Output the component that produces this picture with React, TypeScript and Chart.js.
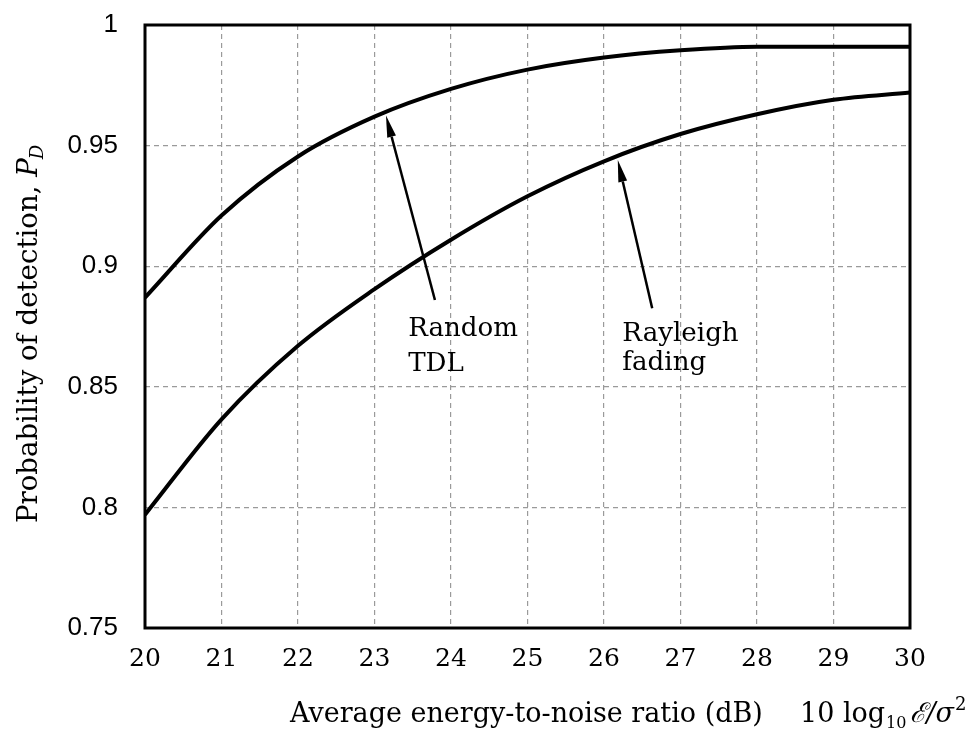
import React, { useEffect, useRef } from "react";
import { Chart, registerables } from "chart.js";
Chart.register(...registerables);

// Data
const snrDb = [20, 21, 22, 23, 24, 25, 26, 27, 28, 29, 30];
const randomTdl = [0.887, 0.921, 0.9455, 0.962, 0.9735, 0.9815, 0.9865, 0.9895, 0.991, 0.991, 0.991];
const rayleighFading = [0.797, 0.8365, 0.867, 0.8905, 0.911, 0.929, 0.9435, 0.9548, 0.963, 0.969, 0.972];

const xTickValues = [20, 21, 22, 23, 24, 25, 26, 27, 28, 29, 30];
const yTickValues = [0.75, 0.8, 0.85, 0.9, 0.95, 1];
const yTickLabels = ["0.75", "0.8", "0.85", "0.9", "0.95", "1"];

// annotation text (lines), left x, baselines y (data units)
const labelLines = [["Random", "TDL"], ["Rayleigh", "fading"]];
const labelX = [23.44, 26.24];
const labelBaselines = [[0.871, 0.8566], [0.869, 0.857]];
// arrows: tail -> head (data units)
const arrowTails = [[23.79, 0.886], [26.63, 0.8826]];
const arrowHeads = [[23.15, 0.9625], [26.18, 0.944]];

const xTitle = "Average energy-to-noise ratio (dB)";
const yTitle = "Probability of detection, ";

const SERIF = "'DejaVu Serif', 'Liberation Serif', serif";
const SANS = "'Liberation Sans', Arial, sans-serif";

function fitSize(ctx: CanvasRenderingContext2D, text: string, style: string, target: number) {
  ctx.font = `${style} 20px ${SERIF}`;
  const w = ctx.measureText(text).width;
  return (20 * target) / w;
}

const overlayPlugin = {
  id: "overlay",
  afterDatasetsDraw(chart: any) {
    const { ctx, chartArea, scales } = chart;
    const xs = scales.x;
    const ys = scales.y;
    ctx.save();
    // frame
    ctx.strokeStyle = "#000";
    ctx.lineWidth = 3;
    ctx.strokeRect(chartArea.left, chartArea.top, chartArea.right - chartArea.left, chartArea.bottom - chartArea.top);

    // arrows
    ctx.fillStyle = "#000";
    ctx.lineWidth = 2.5;
    for (let i = 0; i < arrowTails.length; i++) {
      const x0 = xs.getPixelForValue(arrowTails[i][0]);
      const y0 = ys.getPixelForValue(arrowTails[i][1]);
      const x1 = xs.getPixelForValue(arrowHeads[i][0]);
      const y1 = ys.getPixelForValue(arrowHeads[i][1]);
      const ang = Math.atan2(y1 - y0, x1 - x0);
      const len = 22, hw = 4.5;
      const bx = x1 - len * Math.cos(ang);
      const by = y1 - len * Math.sin(ang);
      ctx.beginPath();
      ctx.moveTo(x0, y0);
      ctx.lineTo(bx, by);
      ctx.stroke();
      ctx.beginPath();
      ctx.moveTo(x1, y1);
      ctx.lineTo(bx + hw * Math.sin(ang), by - hw * Math.cos(ang));
      ctx.lineTo(bx - hw * Math.sin(ang), by + hw * Math.cos(ang));
      ctx.closePath();
      ctx.fill();
    }

    // annotation texts
    ctx.textAlign = "left";
    ctx.textBaseline = "alphabetic";
    const labSize = fitSize(ctx, "Random", "", 110);
    ctx.font = `${labSize}px ${SERIF}`;
    for (let i = 0; i < labelLines.length; i++) {
      const px = xs.getPixelForValue(labelX[i]);
      labelLines[i].forEach((line, j) => {
        ctx.fillText(line, px, ys.getPixelForValue(labelBaselines[i][j]));
      });
    }

    // x axis title
    const base = 722;
    let x = chartArea.left + 145;
    const tSize = fitSize(ctx, xTitle, "", 473);
    ctx.font = `${tSize}px ${SERIF}`;
    ctx.fillText(xTitle, x, base);
    x = chartArea.left + 655;
    ctx.fillText("10 log", x, base);
    x += ctx.measureText("10 log").width;
    ctx.font = `${Math.round(tSize * 0.6)}px ${SERIF}`;
    ctx.fillText("10", x + 1, base + 6);
    x += ctx.measureText("10").width + 5;
    ctx.font = `italic ${tSize}px ${SERIF}`;
    ctx.fillText("\u2130/\u03C3", x, base);
    x += ctx.measureText("\u2130/\u03C3").width + 1;
    ctx.font = `${Math.round(tSize * 0.65)}px ${SERIF}`;
    ctx.fillText("2", x, base - 12);

    // y axis title
    ctx.save();
    ctx.translate(37, 523);
    ctx.rotate(-Math.PI / 2);
    const ySize = fitSize(ctx, yTitle + "P", "", 365);
    ctx.font = `${ySize}px ${SERIF}`;
    ctx.fillText(yTitle, 0, 0);
    let w = ctx.measureText(yTitle).width;
    ctx.font = `italic ${ySize}px ${SERIF}`;
    ctx.fillText("P", w, 0);
    w += ctx.measureText("P").width;
    ctx.font = `italic ${Math.round(ySize * 0.65)}px ${SERIF}`;
    ctx.fillText("D", w - 1, 6);
    ctx.restore();

    ctx.restore();
  },
};

export default function App() {
  const ref = useRef<HTMLCanvasElement>(null);
  useEffect(() => {
    document.body.style.margin = "0";
    const canvas = ref.current!;
    const chart = new Chart(canvas, {
      type: "line",
      data: {
        datasets: [
          {
            label: "Random TDL",
            data: snrDb.map((x, i) => ({ x, y: randomTdl[i] })),
            borderColor: "#000",
            borderWidth: 4,
            pointRadius: 0,
            cubicInterpolationMode: "monotone",
          },
          {
            label: "Rayleigh fading",
            data: snrDb.map((x, i) => ({ x, y: rayleighFading[i] })),
            borderColor: "#000",
            borderWidth: 4,
            pointRadius: 0,
            cubicInterpolationMode: "monotone",
          },
        ],
      },
      options: {
        responsive: false,
        animation: false,
        layout: { padding: { top: 25, right: 58, left: 0, bottom: 0 } },
        plugins: { legend: { display: false }, tooltip: { enabled: false }, title: { display: false } },
        scales: {
          x: {
            type: "linear",
            min: 20,
            max: 30,
            afterBuildTicks: (s: any) => {
              s.ticks = xTickValues.map((v) => ({ value: v }));
            },
            afterFit: (s: any) => {
              s.height = 109;
              s.paddingLeft = 0;
              s.paddingRight = 0;
            },
            grid: { color: "#9a9a9a", lineWidth: 1.2, drawTicks: false },
            border: { display: false, dash: [5, 4] },
            ticks: {
              color: "#000",
              padding: 16,
              font: { family: SERIF, size: 25 },
              maxRotation: 0,
              autoSkip: false,
            },
          },
          y: {
            type: "linear",
            min: 0.75,
            max: 1,
            afterBuildTicks: (s: any) => {
              s.ticks = yTickValues.map((v) => ({ value: v }));
            },
            afterFit: (s: any) => {
              s.width = 145;
              s.paddingTop = 0;
              s.paddingBottom = 0;
            },
            grid: { color: "#9a9a9a", lineWidth: 1.2, drawTicks: false },
            border: { display: false, dash: [5, 4] },
            ticks: {
              color: "#000",
              padding: 27,
              font: { family: SANS, size: 26 },
              autoSkip: false,
              callback: (v: any) => {
                const idx = yTickValues.findIndex((t) => Math.abs(t - Number(v)) < 1e-9);
                return idx >= 0 ? yTickLabels[idx] : "";
              },
            },
          },
        },
      },
      plugins: [overlayPlugin],
    } as any);
    return () => chart.destroy();
  }, []);
  return (
    <div style={{ width: 968, height: 737, background: "#fff" }}>
      <canvas ref={ref} width={968} height={737} />
    </div>
  );
}
